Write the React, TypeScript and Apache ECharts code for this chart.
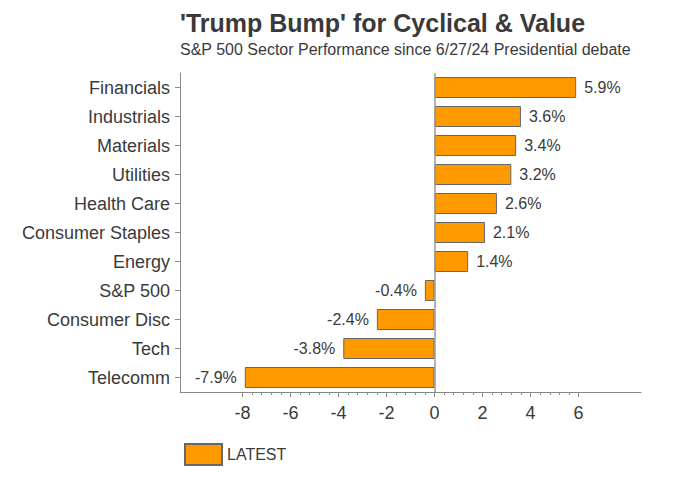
import React, { useEffect, useRef } from "react";
import * as echarts from "echarts";

const categories = [
  "Financials",
  "Industrials",
  "Materials",
  "Utilities",
  "Health Care",
  "Consumer Staples",
  "Energy",
  "S&P 500",
  "Consumer Disc",
  "Tech",
  "Telecomm",
];
const latestValues = [5.9, 3.6, 3.4, 3.2, 2.6, 2.1, 1.4, -0.4, -2.4, -3.8, -7.9];
const majorTicks = [-8, -6, -4, -2, 0, 2, 4, 6];
const minorTicks = [
  -7.6, -7.2, -6.8, -6.4, -5.6, -5.2, -4.8, -4.4, -3.6, -3.2, -2.8, -2.4, -1.6, -1.2, -0.8, -0.4,
  0.4, 0.8, 1.2, 1.6, 2.4, 2.8, 3.2, 3.6, 4.4, 4.8, 5.2, 5.6,
];
const axisMin = -10.6;
const axisMax = 8.6;

const FONT = "'Liberation Sans', Arial, sans-serif";
const TEXT = "#3a3a3a";
const AXIS = "#888888";

export default function App() {
  const ref = useRef<HTMLDivElement>(null);
  useEffect(() => {
    if (!ref.current) return;
    const chart = echarts.init(ref.current, null, { renderer: "svg" });
    chart.setOption({
      animation: false,
      textStyle: { fontFamily: FONT },
      title: {
        text: "'Trump Bump' for Cyclical & Value",
        subtext: "S&P 500 Sector Performance since 6/27/24 Presidential debate",
        left: 167,
        top: -3,
        itemGap: 6,
        textStyle: { fontSize: 25, fontWeight: "bold", color: TEXT, fontFamily: FONT },
        subtextStyle: { fontSize: 16, color: TEXT, fontFamily: FONT },
      },
      legend: {
        left: 171,
        top: 430,
        icon: "rect",
        itemWidth: 37,
        itemHeight: 21,
        itemGap: 7,
        textStyle: { fontSize: 16, color: TEXT, fontFamily: FONT },
        data: ["LATEST"],
      },
      grid: { left: 172, right: 30, top: 65, bottom: 86, containLabel: false },
      xAxis: [
        {
          type: "value",
          min: axisMin,
          max: axisMax,
          position: "bottom",
          axisLine: { show: true, lineStyle: { color: AXIS } },
          axisTick: { show: true, length: 5, customValues: majorTicks, lineStyle: { color: AXIS } },
          axisLabel: {
            show: true,
            customValues: majorTicks,
            fontSize: 18,
            color: TEXT,
            margin: 12,
            fontFamily: FONT,
          },
          splitLine: { show: false },
        },
        {
          type: "value",
          min: axisMin,
          max: axisMax,
          position: "bottom",
          axisLine: { show: false },
          axisTick: { show: true, length: 3, customValues: minorTicks, lineStyle: { color: AXIS } },
          axisLabel: { show: false },
          splitLine: { show: false },
        },
      ],
      yAxis: {
        type: "category",
        inverse: true,
        data: categories,
        axisLine: { show: true, onZero: false, lineStyle: { color: AXIS } },
        axisTick: { show: true, length: 5, alignWithLabel: true, lineStyle: { color: AXIS } },
        axisLabel: { fontSize: 18, color: TEXT, margin: 10, fontFamily: FONT },
        splitLine: { show: false },
      },
      series: [
        {
          name: "LATEST",
          type: "bar",
          xAxisIndex: 0,
          data: latestValues.map((v) => ({
            value: v,
            label: { position: v >= 0 ? "right" : "left" },
          })),
          barWidth: 21,
          itemStyle: { color: "#FF9900", borderColor: "#666666", borderWidth: 1 },
          label: {
            show: true,
            distance: 8,
            fontSize: 16,
            color: TEXT,
            fontFamily: FONT,
            formatter: (p: any) => `${p.value}%`,
          },
          markLine: {
            silent: true,
            symbol: "none",
            label: { show: false },
            lineStyle: { color: "#999999", type: "solid", width: 1.5 },
            data: [{ xAxis: 0 }],
          },
        },
      ],
    });
    return () => chart.dispose();
  }, []);
  return <div ref={ref} style={{ width: 663, height: 470 }} />;
}
